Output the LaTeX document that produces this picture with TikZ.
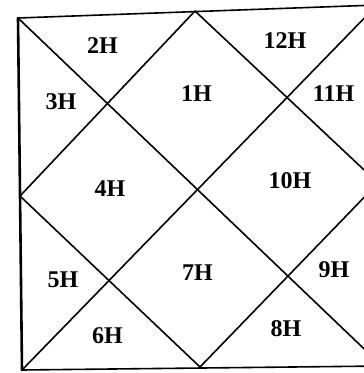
\documentclass[tikz,border=0pt]{standalone}
\usepackage{fontspec}
\setmainfont{Liberation Serif}
\begin{document}
\begin{tikzpicture}[x=1pt,y=-1pt,
  chartline/.style={line width=1.6pt,line cap=round,line join=round},
  leftedge/.style={line width=2.6pt},
  lbl/.style={inner sep=0pt,font=\fontsize{24}{24}\selectfont\bfseries}]
\useasboundingbox (0,0) rectangle (364,373);
\begin{scope}
\clip (0,0) rectangle (364,373);
% corners of the outer square
\coordinate (TL) at (18,18);
\coordinate (TR) at (377,5);
\coordinate (BR) at (382,366);
\coordinate (BL) at (22,370);
% midpoints (diamond vertices)
\coordinate (MT) at (195,11);
\coordinate (ML) at (20,196);
\coordinate (MB) at (200,367);
\coordinate (MR) at (378,183);
% outer frame
\draw[chartline] (TL) -- (TR) -- (BR) -- (BL);
\draw[chartline,leftedge] (BL) -- (TL);
% diagonals
\draw[chartline] (TL) -- (BR);
\draw[chartline] (BL) -- (TR);
% inner diamond
\draw[chartline] (MT) -- (MR) -- (MB) -- (ML) -- cycle;
\end{scope}
% house labels
\node[lbl] (h1) at (196.5,94) {1H};
\node[lbl] (h2) at (102.5,46) {2H};
\node[lbl] (h3) at (61,102) {3H};
\node[lbl] (h4) at (110,189) {4H};
\node[lbl] (h5) at (63,279.5) {5H};
\node[lbl] (h6) at (107.5,335.5) {6H};
\node[lbl] (h7) at (197.5,273) {7H};
\node[lbl] (h8) at (286,328.5) {8H};
\node[lbl] (h9) at (334,270) {9H};
\node[lbl] (h10) at (290,180.5) {10H};
\node[lbl] (h11) at (333.5,94) {11H};
\node[lbl] (h12) at (285,41) {12H};
\end{tikzpicture}
\end{document}
